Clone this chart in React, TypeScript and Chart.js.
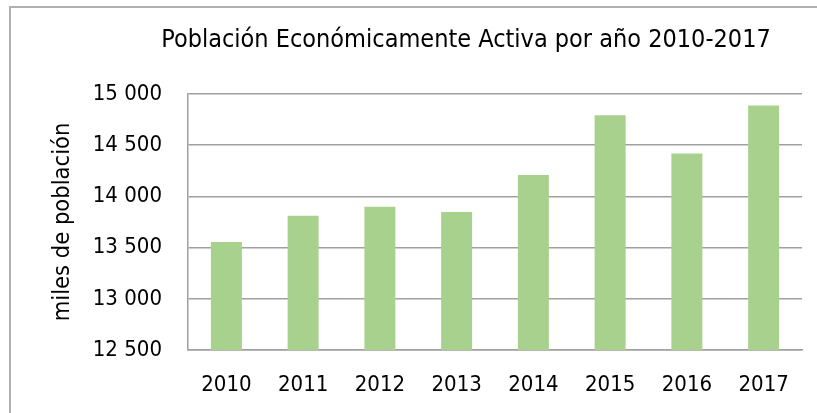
import React, { useEffect, useRef } from "react";
import { Chart, registerables } from "chart.js";

Chart.register(...registerables);

const years = ["2010", "2011", "2012", "2013", "2014", "2015", "2016", "2017"];
const pea = [13555, 13810, 13900, 13848, 14208, 14792, 14418, 14888];
const yTicks = [12500, 13000, 13500, 14000, 14500, 15000];
const titleText = "Población Económicamente Activa por año 2010-2017";
const yAxisTitle = "miles de población";

const FONT = '"Liberation Sans Narrow", "Arial Narrow", "DejaVu Sans Condensed", sans-serif';

const fmt = (v: number) => String(v).replace(/\B(?=(\d{3})+(?!\d))/g, " ");

const framePlugin = {
  id: "frameAndTitle",
  beforeDraw(chart: any) {
    const ctx = chart.ctx;
    ctx.save();
    ctx.fillStyle = "#ffffff";
    ctx.fillRect(0, 0, chart.width, chart.height);
    ctx.strokeStyle = "#b0b0b0";
    ctx.lineWidth = 2;
    ctx.beginPath();
    ctx.moveTo(10, chart.height + 5);
    ctx.lineTo(10, 7);
    ctx.lineTo(chart.width + 5, 7);
    ctx.stroke();
    ctx.restore();
  },
  afterDraw(chart: any) {
    const ctx = chart.ctx;
    ctx.save();
    ctx.font = `25px ${FONT}`;
    ctx.fillStyle = "#000000";
    ctx.textAlign = "center";
    ctx.textBaseline = "alphabetic";
    ctx.fillText(titleText, 466, 47);
    ctx.restore();
  },
};

export default function App() {
  const ref = useRef<HTMLCanvasElement | null>(null);

  useEffect(() => {
    if (!ref.current) return;
    const chart = new Chart(ref.current, {
      type: "bar",
      data: {
        labels: years,
        datasets: [
          {
            label: "PEA",
            data: pea,
            backgroundColor: "#a9d18e",
            borderWidth: 0,
            barPercentage: 0.404,
            categoryPercentage: 1,
          },
        ],
      },
      plugins: [framePlugin],
      options: {
        responsive: false,
        animation: false,
        events: [],
        layout: { padding: { top: 94, right: 15, bottom: 0, left: 0 } },
        plugins: {
          legend: { display: false },
          tooltip: { enabled: false },
          title: { display: false },
        },
        scales: {
          x: {
            grid: { display: false, drawTicks: false },
            border: { display: true, color: "#a0a0a0", width: 1.5 },
            ticks: {
              color: "#000000",
              font: { family: FONT, size: 22 },
              padding: 22,
              maxRotation: 0,
              autoSkip: false,
            },
            afterFit(scale: any) {
              scale.height = 63;
            },
          },
          y: {
            min: 12500,
            max: 15000,
            afterBuildTicks(scale: any) {
              scale.ticks = yTicks.map((v) => ({ value: v }));
            },
            grid: { color: "#a0a0a0", lineWidth: 1.5, drawTicks: false },
            border: { display: true, color: "#a0a0a0", width: 1.5 },
            ticks: {
              color: "#000000",
              font: { family: FONT, size: 22 },
              padding: 26,
              callback: (v: any) => fmt(Number(v)),
            },
            title: {
              display: true,
              text: yAxisTitle,
              color: "#000000",
              font: { family: FONT, size: 23.5 },
              padding: { top: 49, bottom: 0 },
            },
            afterFit(scale: any) {
              scale.width = 188;
            },
          },
        },
      },
    });
    return () => chart.destroy();
  }, []);

  return (
    <div
      style={{
        position: "fixed",
        left: 0,
        top: 0,
        width: 817,
        height: 413,
        overflow: "hidden",
        background: "#ffffff",
      }}
    >
      <canvas
        ref={ref}
        width={817}
        height={413}
        style={{ position: "absolute", left: 0, top: 0, width: 817, height: 413 }}
      />
    </div>
  );
}
